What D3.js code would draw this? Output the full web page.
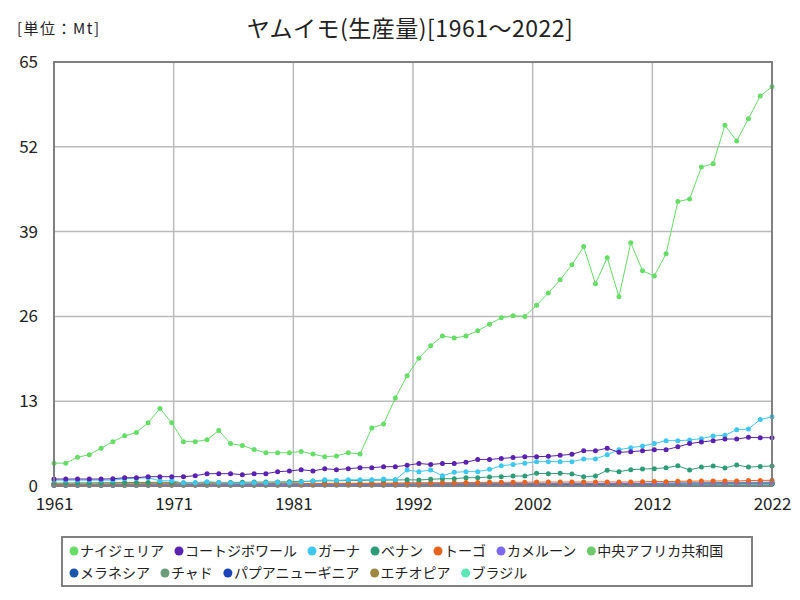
<!DOCTYPE html>
<html>
<head>
<meta charset="utf-8">
<script src="https://cdn.jsdelivr.net/npm/d3@7"></script>
<style>
  body { margin: 0; background: #fff; }
  text { font-family: "Noto Sans CJK JP", "Noto Sans", sans-serif; fill: #222; }
</style>
</head>
<body>
<div class="chart"></div>
<script>
// data (Mt)
var years = d3.range(1961, 2023);
var xTickLabels = ["1961", "1971", "1981", "1992", "2002", "2012", "2022"];
var yTicks = [0, 13, 26, 39, 52, 65];

var seriesNames = ["ナイジェリア", "コートジボワール", "ガーナ", "ベナン", "トーゴ", "カメルーン", "中央アフリカ共和国",
  "メラネシア", "チャド", "パプアニューギニア", "エチオピア", "ブラジル"];
var seriesColors = ["#66dd66", "#5a22b0", "#3ec8f0", "#2e9c78", "#e8641c", "#7b68ee", "#6cc96c",
  "#1a56a8", "#6c9c78", "#1a44b8", "#9c8640", "#5ee8b8"];

var nigeria = [3.5, 3.5, 4.4, 4.8, 5.8, 6.8, 7.7, 8.2, 9.7, 11.9, 9.7, 6.8, 6.8, 7.1, 8.5, 6.5, 6.2, 5.6, 5.1, 5.1,
  5.1, 5.3, 4.9, 4.5, 4.6, 5.1, 4.9, 8.9, 9.5, 13.5, 16.9, 19.6, 21.5, 23.0, 22.7, 23.0, 23.8, 24.8, 25.8, 26.1,
  26.0, 27.7, 29.6, 31.6, 33.9, 36.7, 31.0, 35.0, 29.0, 37.3, 33.0, 32.2, 35.6, 43.6, 44.0, 48.9, 49.4, 55.3, 52.9, 56.3,
  59.8, 61.2];
var coteDivoire = [1.07, 1.07, 1.07, 1.07, 1.07, 1.1, 1.27, 1.27, 1.43, 1.43, 1.43, 1.43, 1.58, 1.89, 1.89, 1.89, 1.74, 1.89, 1.89, 2.2,
  2.3, 2.5, 2.3, 2.66, 2.5, 2.66, 2.8, 2.8, 2.96, 2.96, 3.17, 3.45, 3.3, 3.45, 3.45, 3.63, 4.07, 4.07, 4.22, 4.37,
  4.48, 4.5, 4.55, 4.7, 4.86, 5.4, 5.4, 5.8, 5.16, 5.26, 5.4, 5.57, 5.57, 6.0, 6.5, 6.75, 6.95, 7.2, 7.2, 7.46,
  7.4, 7.4];
var ghana = [0.9, 0.9, 0.9, 0.9, 0.9, 0.9, 1.1, 1.2, 1.25, 0.8, 0.8, 0.45, 0.5, 0.65, 0.55, 0.45, 0.4, 0.5, 0.5, 0.55,
  0.5, 0.6, 0.75, 0.95, 0.85, 0.95, 0.95, 0.95, 1.07, 0.95, 2.45, 2.2, 2.45, 1.58, 2.1, 2.2, 2.2, 2.55, 3.1, 3.3,
  3.5, 3.73, 3.73, 3.73, 3.73, 4.14, 4.14, 4.8, 5.57, 5.88, 6.13, 6.5, 6.95, 6.95, 7.05, 7.26, 7.67, 7.77, 8.64, 8.74,
  10.2, 10.6];
var benin = [0.45, 0.45, 0.47, 0.47, 0.5, 0.5, 0.52, 0.55, 0.55, 0.57, 0.55, 0.5, 0.5, 0.52, 0.55, 0.55, 0.57, 0.6, 0.6, 0.62,
  0.65, 0.7, 0.75, 0.8, 0.8, 0.85, 0.85, 0.9, 0.9, 0.92, 0.95, 0.92, 1.02, 1.12, 1.12, 1.27, 1.27, 1.38, 1.43, 1.53,
  1.53, 1.94, 1.89, 1.94, 1.84, 1.43, 1.53, 2.4, 2.2, 2.5, 2.6, 2.66, 2.8, 3.1, 2.45, 2.9, 3.07, 2.76, 3.22, 2.9,
  3.0, 3.07];
var togo = [0.3, 0.3, 0.31, 0.32, 0.33, 0.33, 0.34, 0.35, 0.35, 0.36, 0.36, 0.35, 0.34, 0.35, 0.36, 0.37, 0.36, 0.37, 0.38, 0.38,
  0.37, 0.36, 0.38, 0.4, 0.41, 0.41, 0.42, 0.43, 0.44, 0.45, 0.48, 0.5, 0.5, 0.52, 0.5, 0.53, 0.55, 0.56, 0.57, 0.56,
  0.58, 0.6, 0.6, 0.6, 0.62, 0.6, 0.62, 0.63, 0.6, 0.62, 0.64, 0.7, 0.66, 0.72, 0.74, 0.76, 0.76, 0.78, 0.77, 0.84,
  0.86, 0.87];
var cameroon = [0.15, 0.15, 0.16, 0.16, 0.17, 0.17, 0.18, 0.18, 0.19, 0.19, 0.2, 0.2, 0.2, 0.21, 0.21, 0.22, 0.22, 0.23, 0.23, 0.24,
  0.24, 0.25, 0.25, 0.26, 0.26, 0.27, 0.27, 0.28, 0.28, 0.29, 0.29, 0.3, 0.3, 0.3, 0.31, 0.31, 0.32, 0.32, 0.33, 0.33,
  0.34, 0.34, 0.35, 0.35, 0.36, 0.36, 0.37, 0.37, 0.38, 0.39, 0.4, 0.42, 0.44, 0.46, 0.48, 0.5, 0.52, 0.54, 0.55, 0.56,
  0.58, 0.58];
var centralAfrica = [0.18, 0.18, 0.19, 0.19, 0.2, 0.2, 0.2, 0.21, 0.21, 0.22, 0.22, 0.22, 0.23, 0.23, 0.24, 0.24, 0.25, 0.25, 0.25, 0.26,
  0.26, 0.27, 0.27, 0.28, 0.28, 0.29, 0.29, 0.3, 0.3, 0.31, 0.31, 0.32, 0.32, 0.33, 0.33, 0.34, 0.34, 0.35, 0.35, 0.36,
  0.36, 0.36, 0.37, 0.37, 0.38, 0.38, 0.38, 0.39, 0.39, 0.4, 0.4, 0.41, 0.41, 0.42, 0.42, 0.43, 0.43, 0.44, 0.44, 0.45,
  0.45, 0.46];
var melanesia = [0.2, 0.2, 0.2, 0.21, 0.21, 0.21, 0.22, 0.22, 0.22, 0.23, 0.23, 0.23, 0.24, 0.24, 0.24, 0.25, 0.25, 0.25, 0.26, 0.26,
  0.26, 0.27, 0.27, 0.27, 0.28, 0.28, 0.28, 0.29, 0.29, 0.29, 0.3, 0.3, 0.3, 0.31, 0.31, 0.31, 0.32, 0.32, 0.32, 0.33,
  0.33, 0.33, 0.34, 0.34, 0.34, 0.35, 0.35, 0.35, 0.36, 0.36, 0.36, 0.37, 0.37, 0.37, 0.38, 0.38, 0.38, 0.39, 0.39, 0.39,
  0.4, 0.4];
var chad = [0.1, 0.1, 0.11, 0.11, 0.12, 0.12, 0.12, 0.13, 0.13, 0.13, 0.14, 0.14, 0.14, 0.15, 0.15, 0.15, 0.16, 0.16, 0.16, 0.17,
  0.17, 0.18, 0.18, 0.19, 0.19, 0.2, 0.2, 0.21, 0.21, 0.22, 0.23, 0.23, 0.24, 0.25, 0.25, 0.26, 0.27, 0.28, 0.28, 0.29,
  0.3, 0.3, 0.31, 0.32, 0.32, 0.33, 0.34, 0.35, 0.35, 0.36, 0.37, 0.38, 0.38, 0.39, 0.4, 0.4, 0.41, 0.42, 0.42, 0.43,
  0.44, 0.44];
var papuaNewGuinea = [0.15, 0.15, 0.15, 0.16, 0.16, 0.16, 0.17, 0.17, 0.17, 0.18, 0.18, 0.18, 0.19, 0.19, 0.19, 0.2, 0.2, 0.2, 0.21, 0.21,
  0.21, 0.22, 0.22, 0.22, 0.23, 0.23, 0.23, 0.24, 0.24, 0.24, 0.25, 0.25, 0.25, 0.26, 0.26, 0.26, 0.27, 0.27, 0.27, 0.28,
  0.28, 0.28, 0.29, 0.29, 0.29, 0.3, 0.3, 0.3, 0.31, 0.31, 0.31, 0.32, 0.32, 0.32, 0.33, 0.33, 0.33, 0.34, 0.34, 0.34,
  0.35, 0.35];
var ethiopia = [0.1, 0.1, 0.1, 0.1, 0.1, 0.1, 0.1, 0.1, 0.1, 0.1, 0.1, 0.1, 0.1, 0.1, 0.1, 0.1, 0.1, 0.1, 0.1, 0.1,
  0.1, 0.1, 0.1, 0.1, 0.1, 0.1, 0.1, 0.1, 0.1, 0.1, 0.1, 0.1, 0.2, 0.2, 0.22, 0.22, 0.24, 0.24, 0.25, 0.25,
  0.26, 0.26, 0.27, 0.27, 0.28, 0.28, 0.3, 0.3, 0.32, 0.32, 0.34, 0.34, 0.35, 0.35, 0.36, 0.36, 0.37, 0.37, 0.38, 0.38,
  0.38, 0.38];
var brazil = [0.12, 0.12, 0.12, 0.13, 0.13, 0.13, 0.14, 0.14, 0.14, 0.15, 0.15, 0.15, 0.16, 0.16, 0.16, 0.17, 0.17, 0.17, 0.18, 0.18,
  0.18, 0.19, 0.19, 0.19, 0.2, 0.2, 0.2, 0.21, 0.21, 0.21, 0.22, 0.22, 0.22, 0.22, 0.23, 0.23, 0.23, 0.23, 0.24, 0.24,
  0.24, 0.24, 0.24, 0.25, 0.25, 0.25, 0.25, 0.25, 0.25, 0.25, 0.25, 0.25, 0.25, 0.25, 0.25, 0.25, 0.25, 0.25, 0.25, 0.25,
  0.25, 0.25];

var seriesValues = [nigeria, coteDivoire, ghana, benin, togo, cameroon, centralAfrica,
  melanesia, chad, papuaNewGuinea, ethiopia, brazil];

var series = seriesNames.map(function(name, i) {
  return {
    name: name,
    color: seriesColors[i],
    points: years.map(function(y, j) { return {year: y, value: seriesValues[i][j]}; })
  };
});

// layout
var W = 800, H = 600;
var margin = {top: 62, right: 28, bottom: 114, left: 54}
  , width = W - margin.left - margin.right
  , height = H - margin.top - margin.bottom;

var svg = d3.select(".chart").append("svg")
    .attr("width", W)
    .attr("height", H);

svg.append("text")
    .attr("x", 410).attr("y", 37)
    .attr("text-anchor", "middle")
    .style("font-size", "23px")
    .style("letter-spacing", "0.5px")
    .text("ヤムイモ(生産量)[1961～2022]");

svg.append("text")
    .attr("x", 17).attr("y", 34)
    .style("font-size", "15px")
    .style("letter-spacing", "1.5px")
    .text("[単位：Mt]");

var g = svg.append("g")
    .attr("transform", "translate(" + margin.left + "," + margin.top + ")");

var xScale = d3.scaleLinear().domain([1961, 2022]).range([0, width]);
var yScale = d3.scaleLinear().domain([0, 65]).range([height, 0]);

// x grid is split evenly into six parts, labels are rounded years
var xGrid = d3.scalePoint().domain(xTickLabels).range([0, width]);

g.append("g")
    .selectAll("line.v")
    .data(xTickLabels)
    .join("line")
    .attr("x1", function(d) { return xGrid(d); })
    .attr("x2", function(d) { return xGrid(d); })
    .attr("y1", 0).attr("y2", height)
    .attr("stroke", "#bbbbbb").attr("stroke-width", 1.5);

g.append("g")
    .selectAll("line.h")
    .data(yTicks)
    .join("line")
    .attr("x1", 0).attr("x2", width)
    .attr("y1", function(d) { return yScale(d); })
    .attr("y2", function(d) { return yScale(d); })
    .attr("stroke", "#bbbbbb").attr("stroke-width", 1.5);

// y axis labels
var yAxis = g.append("g")
    .call(d3.axisLeft(yScale).tickValues(yTicks).tickSize(0).tickPadding(16));
yAxis.select(".domain").remove();
yAxis.selectAll("text").style("font-size", "17px").attr("fill", "#222");

// x axis labels
var xAxis = g.append("g")
    .attr("transform", "translate(0," + height + ")")
    .call(d3.axisBottom(xGrid).tickSize(0).tickPadding(12));
xAxis.select(".domain").remove();
xAxis.selectAll("text").style("font-size", "17px").attr("fill", "#222");

var line = d3.line()
    .x(function(d) { return xScale(d.year); })
    .y(function(d) { return yScale(d.value); });

// draw last series first so nigeria ends up on top
var lines = g.append("g");
series.slice().reverse().forEach(function(s) {
  lines.append("path")
      .datum(s.points)
      .attr("fill", "none")
      .attr("stroke", s.color)
      .attr("stroke-width", 1)
      .attr("d", line);
  lines.append("g")
      .selectAll("circle")
      .data(s.points)
      .join("circle")
      .attr("cx", function(d) { return xScale(d.year); })
      .attr("cy", function(d) { return yScale(d.value); })
      .attr("r", 2.5)
      .attr("fill", s.color);
});

// frame
g.append("rect")
    .attr("width", width).attr("height", height)
    .attr("fill", "none")
    .attr("stroke", "#808080").attr("stroke-width", 2);

// legend
var lg = svg.append("g");
var box = {x: 62, y: 537, w: 690, h: 49};
lg.append("rect")
    .attr("x", box.x).attr("y", box.y)
    .attr("width", box.w).attr("height", box.h)
    .attr("fill", "#fff")
    .attr("stroke", "#808080").attr("stroke-width", 2);

var gap = 15;
var lx = box.x + 12, ly = box.y + 14;
series.forEach(function(s) {
  var item = lg.append("g");
  item.append("circle").attr("cx", 0).attr("cy", 0).attr("r", 4.5).attr("fill", s.color);
  var t = item.append("text")
      .attr("x", 6).attr("y", 5)
      .style("font-size", "14px")
      .text(s.name);
  var w = 6 + t.node().getComputedTextLength() + gap;
  if (lx + w - gap > box.x + box.w - 4) {
    lx = box.x + 12;
    ly += 22;
  }
  item.attr("transform", "translate(" + lx + "," + ly + ")");
  lx += w;
});
</script>
</body>
</html>
